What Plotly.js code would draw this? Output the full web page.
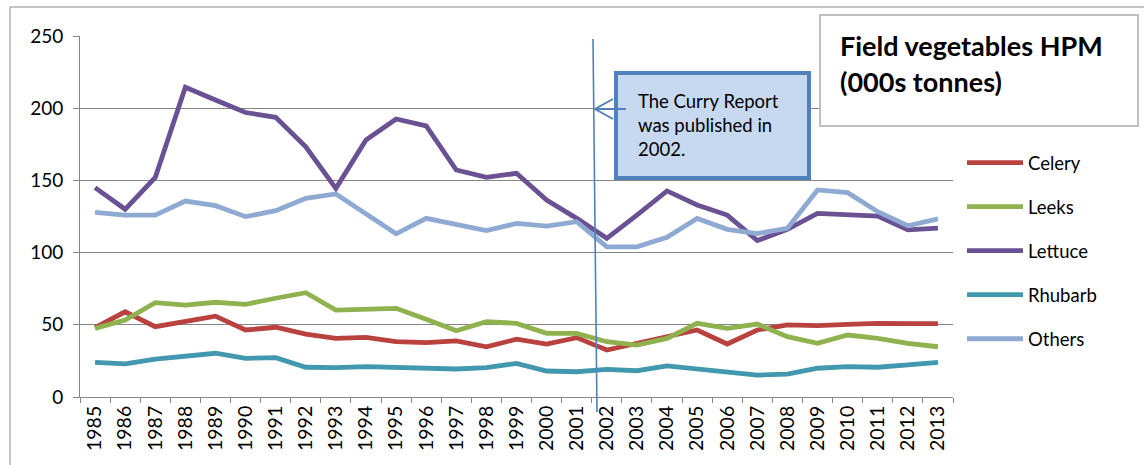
<!DOCTYPE html>
<html>
<head>
<meta charset="utf-8">
<script src="https://cdn.plot.ly/plotly-3.0.1.min.js"></script>
<style>
  html, body { margin: 0; padding: 0; background: #ffffff; }
  #chart { width: 1144px; height: 465px; }
</style>
</head>
<body>
<div id="chart"></div>
<script>
const years = ["1985","1986","1987","1988","1989","1990","1991","1992","1993","1994",
  "1995","1996","1997","1998","1999","2000","2001","2002","2003","2004",
  "2005","2006","2007","2008","2009","2010","2011","2012","2013"];

const celery  = [48, 59, 48.7, 52, 56, 46.4, 48.3, 43.6, 40.6, 41.3,
  38.3, 37.6, 38.8, 34.8, 40, 36.7, 41.1, 32.5, 37.2, 41.3,
  46.4, 36.7, 46.4, 49.9, 49.4, 50.3, 51, 50.8, 50.8];
const leeks   = [47.5, 53.3, 65.3, 63.7, 65.6, 64.2, 68.4, 72.2, 60.2, 60.5,
  61.4, 53.8, 45.9, 52.1, 51, 44.1, 44.1, 38.3, 36, 40.6,
  51, 47.5, 50.5, 41.8, 37.2, 42.9, 40.6, 37.2, 34.8];
const lettuce = [145, 130, 152, 214.5, 205.7, 197, 193.7, 173.3, 144.5, 178,
  192.5, 187.7, 157.2, 152.1, 154.9, 136.4, 123.7, 109.9, 126, 142.7,
  133, 126, 108.3, 116.1, 127.2, 126.5, 125.3, 115.7, 117];
const rhubarb = [24, 22.9, 26.3, 27.9, 30.3, 26.8, 27.2, 20.6, 20.3, 21,
  20.3, 20.3, 19.4, 20.3, 23.3, 18, 17.5, 19.2, 18.2, 21.5,
  19.2, 17.1, 15.2, 15.9, 19.9, 21, 20.6, 22.2, 24];
const others  = [127.9, 126, 126, 135.7, 132.5, 124.9, 129, 137.6, 140.6, 127.2,
  113, 123.7, 119.8, 115.2, 120.2, 118.4, 121.4, 104, 104, 110.6,
  123.7, 116.1, 113.2, 116.8, 143.4, 141.5, 128.3, 118.6, 123.3];

const seriesNames = ["Celery", "Leeks", "Lettuce", "Rhubarb", "Others"];
const seriesData = [celery, leeks, lettuce, rhubarb, others];
const seriesColors = ["#b9423f", "#8fb24f", "#6a5193", "#4298af", "#8eaad2"];

const chartTitleLines = ["Field vegetables HPM", "(000s tonnes)"];
const calloutText = "The Curry Report<br>was published in<br>2002.";

const FONT = "Lato, 'Open Sans', sans-serif";

const traces = seriesNames.map((name, i) => ({
  type: "scatter",
  mode: "lines",
  name: name,
  x: years,
  y: seriesData[i],
  legendgroup: name,
  line: { color: seriesColors[i], width: 4.8 },
  hoverinfo: "x+y+name"
}));

// plot area in pixels: x 80..953, y 36..397
const L = 80, R = 953, T = 36, B = 397;
const px = v => (v - L) / (R - L);
const py = v => (B - v) / (B - T);

const layout = {
  width: 1144,
  height: 465,
  margin: { l: L, r: 1144 - R, t: T, b: 465 - B },
  paper_bgcolor: "#ffffff",
  plot_bgcolor: "#ffffff",
  font: { family: FONT, size: 18, color: "#000000" },
  showlegend: true,
  legend: {
    x: px(962), xanchor: "left",
    y: py(144), yanchor: "top",
    traceorder: "grouped",
    tracegroupgap: 17,
    font: { family: FONT, size: 18.5, color: "#000000" },
    bgcolor: "rgba(0,0,0,0)",
    itemwidth: 56
  },
  xaxis: {
    type: "category",
    range: [-0.5, 28.5],
    tickangle: -90,
    ticks: "outside",
    tickson: "boundaries",
    ticklen: 5,
    tickcolor: "#868686",
    showline: true,
    linecolor: "#868686",
    linewidth: 1,
    showgrid: false,
    zeroline: false,
    tickfont: { family: FONT, size: 19.5, color: "#000000" },
    fixedrange: true
  },
  yaxis: {
    range: [0, 250],
    tickvals: [0, 50, 100, 150, 200, 250],
    ticks: "outside",
    ticklen: 6,
    tickcolor: "#868686",
    showline: true,
    linecolor: "#868686",
    linewidth: 1,
    showgrid: true,
    gridcolor: "#868686",
    gridwidth: 1,
    zeroline: false,
    tickfont: { family: FONT, size: 19, color: "#000000" },
    ticklabelstandoff: 6,
    fixedrange: true
  },
  shapes: [
    { type: "line", xref: "paper", yref: "paper", x0: px(10), x1: px(1144), y0: py(7), y1: py(7),
      line: { color: "#8c8c8c", width: 1 }, layer: "above" },
    { type: "line", xref: "paper", yref: "paper", x0: px(10), x1: px(10), y0: py(7), y1: py(465),
      line: { color: "#8c8c8c", width: 1 }, layer: "above" },
    { type: "rect", xref: "paper", yref: "paper", x0: px(820), x1: px(1138), y0: py(126), y1: py(15),
      line: { color: "#bfbfbf", width: 2 }, fillcolor: "#ffffff", layer: "above" },
    { type: "line", xref: "paper", yref: "paper", x0: px(593), x1: px(597), y0: py(39), y1: py(412),
      line: { color: "#4f81bd", width: 1.6 }, layer: "above" },
    { type: "rect", xref: "paper", yref: "paper", x0: px(616), x1: px(809), y0: py(178), y1: py(73),
      line: { color: "#4f81bd", width: 4 }, fillcolor: "#c6d9f1", layer: "above" },
    { type: "line", xref: "paper", yref: "paper", x0: px(595), x1: px(626), y0: py(109), y1: py(109),
      line: { color: "#4f81bd", width: 2 }, layer: "above" },
    { type: "path", xref: "paper", yref: "paper",
      path: "M " + px(613) + " " + py(99) + " L " + px(595) + " " + py(109) + " L " + px(613) + " " + py(119),
      line: { color: "#4f81bd", width: 2 }, layer: "above" }
  ],
  annotations: [
    { xref: "paper", yref: "paper", x: px(838), y: py(46), xanchor: "left", yanchor: "middle",
      text: "<b>" + chartTitleLines[0] + "</b>", showarrow: false,
      font: { family: FONT, size: 27, color: "#000000" } },
    { xref: "paper", yref: "paper", x: px(838), y: py(81), xanchor: "left", yanchor: "middle",
      text: "<b>" + chartTitleLines[1] + "</b>", showarrow: false,
      font: { family: FONT, size: 27, color: "#000000" } },
    { xref: "paper", yref: "paper", x: px(636), y: py(125), xanchor: "left", yanchor: "middle",
      text: calloutText, showarrow: false, align: "left",
      font: { family: FONT, size: 18.5, color: "#000000" } }
  ]
};

Plotly.newPlot("chart", traces, layout, { displayModeBar: false, responsive: false });
</script>
</body>
</html>
